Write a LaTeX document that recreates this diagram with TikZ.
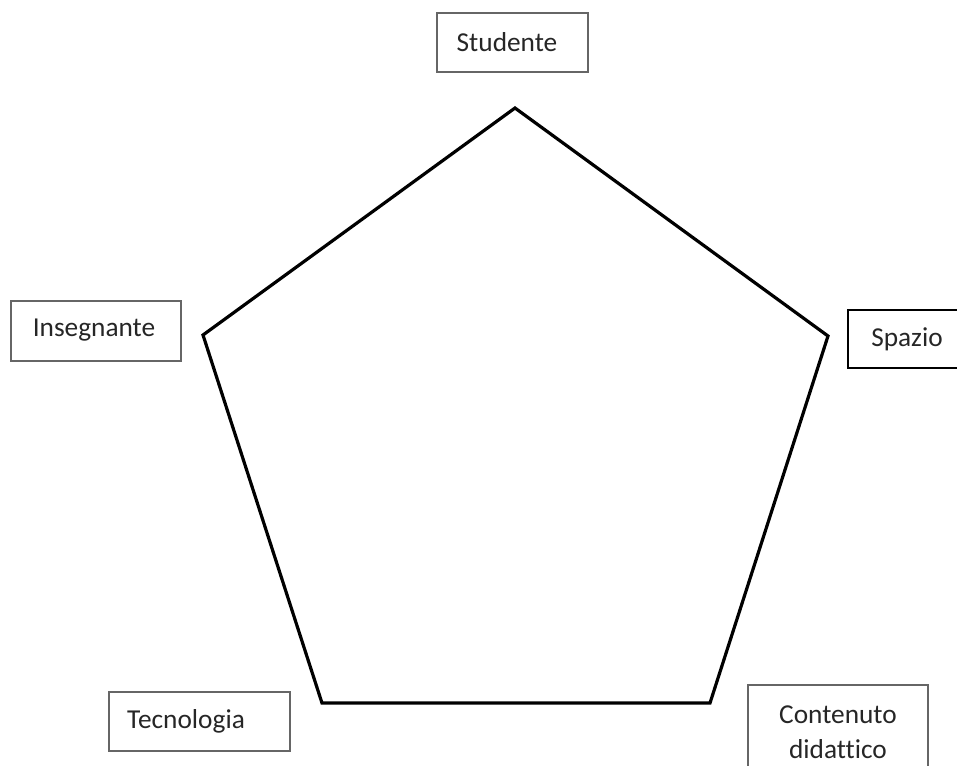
\documentclass[tikz,border=0pt]{standalone}
\usepackage{fontspec}
\setmainfont[Ligatures=NoCommon]{Carlito}
\begin{document}
\begin{tikzpicture}[x=0.75pt,y=-0.75pt,
  lbl/.style={font=\fontsize{20.5}{26}\selectfont, text=black!85, align=center},
  gbox/.style={draw=black!60, line width=1.1pt},
  kbox/.style={draw=black, line width=1.5pt},
  edge/.style={draw=black, line width=2.4pt, line join=miter}]
\useasboundingbox (0,0) rectangle (957,765);
\clip (0,0) rectangle (957,765);
% boxes
\draw[gbox] (437,13) rectangle (588,72);
\node[lbl] (stud) at (507,42) {Studente};
\draw[gbox] (11,301) rectangle (181,361);
\node[lbl] (ins) at (94,330) {Insegnante};
\draw[kbox] (848,310) rectangle (975,368);
\node[lbl] (spa) at (907,339) {Spazio};
\draw[gbox] (109,692) rectangle (290,751);
\node[lbl] (tec) at (186,721) {Tecnologia};
\draw[gbox] (748,685) rectangle (928,790);
\node[lbl] (con) at (838,732) {Contenuto\\didattico};
% pentagon
\coordinate (pT) at (515,108);
\coordinate (pR) at (828,336);
\coordinate (pBR) at (710,703);
\coordinate (pBL) at (322,703);
\coordinate (pL) at (203,335);
\draw[edge] (pT) -- (pR) -- (pBR) -- (pBL) -- (pL) -- cycle;
\end{tikzpicture}
\end{document}
